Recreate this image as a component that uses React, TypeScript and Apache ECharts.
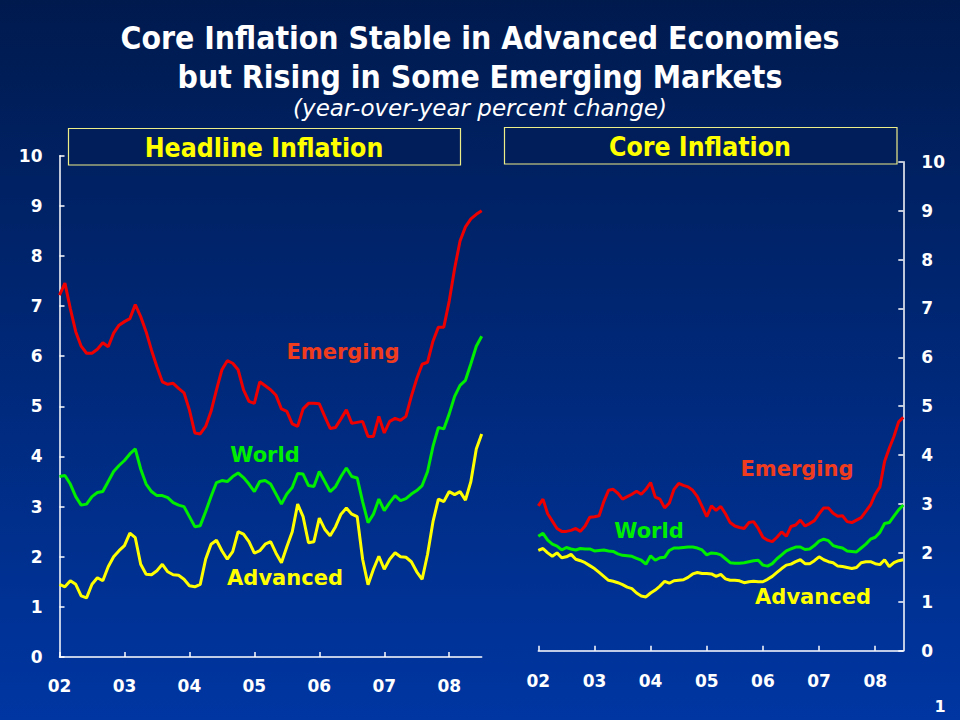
import React, { useEffect, useRef } from "react";
import * as echarts from "echarts";

const yearLabels = ["02", "03", "04", "05", "06", "07", "08"];

const headEmerging = [
  7.22, 7.46, 6.95, 6.49, 6.2, 6.06, 6.06, 6.14, 6.27, 6.19, 6.46, 6.62,
  6.69, 6.75, 7.03, 6.79, 6.49, 6.12, 5.79, 5.49, 5.44, 5.46, 5.36, 5.27,
  4.93, 4.47, 4.45, 4.6, 4.9, 5.33, 5.73, 5.91, 5.86, 5.73, 5.33, 5.1,
  5.06, 5.49, 5.41, 5.33, 5.22, 4.95, 4.9, 4.65, 4.6, 4.95, 5.06, 5.06,
  5.05, 4.8, 4.56, 4.58, 4.75, 4.93, 4.66, 4.68, 4.7, 4.4, 4.4, 4.8,
  4.47, 4.7, 4.76, 4.72, 4.8, 5.2, 5.55, 5.84, 5.88, 6.3, 6.58, 6.58,
  7.1, 7.75, 8.3, 8.58, 8.74, 8.83, 8.9,
];
const headWorld = [
  3.6, 3.62, 3.45, 3.2, 3.03, 3.05, 3.2, 3.28, 3.3, 3.5, 3.7, 3.82,
  3.92, 4.05, 4.15, 3.75, 3.45, 3.3, 3.22, 3.22, 3.18, 3.08, 3.03, 3.0,
  2.8, 2.6, 2.62, 2.9, 3.2, 3.48, 3.52, 3.5, 3.6, 3.67, 3.58, 3.45,
  3.3, 3.5, 3.52, 3.45, 3.25, 3.05, 3.25, 3.38, 3.66, 3.65, 3.42, 3.4,
  3.7, 3.5, 3.3, 3.4, 3.6, 3.77, 3.6, 3.57, 3.1, 2.68, 2.85, 3.15,
  2.92, 3.08, 3.22, 3.12, 3.16, 3.25, 3.32, 3.42, 3.7, 4.2, 4.58, 4.55,
  4.85, 5.2, 5.42, 5.52, 5.85, 6.2, 6.4,
];
const headAdvanced = [
  1.45, 1.4, 1.52, 1.45, 1.22, 1.18, 1.45, 1.58, 1.52, 1.8, 2.0, 2.12,
  2.22, 2.47, 2.38, 1.85, 1.65, 1.64, 1.72, 1.85, 1.7, 1.64, 1.63, 1.55,
  1.42, 1.4, 1.45, 1.95, 2.25, 2.33, 2.12, 1.95, 2.1, 2.5, 2.45, 2.3,
  2.07, 2.12, 2.25, 2.3, 2.07, 1.88, 2.2, 2.5, 3.05, 2.8, 2.28, 2.3,
  2.77, 2.55, 2.42, 2.6, 2.85, 2.97, 2.85, 2.8, 1.95, 1.44, 1.75, 2.01,
  1.75, 1.95, 2.08, 2.0, 1.99, 1.9, 1.7, 1.55, 2.05, 2.7, 3.15, 3.1,
  3.3, 3.24, 3.3, 3.13, 3.5, 4.15, 4.45,
];

const coreEmerging = [
  2.96, 3.1, 2.8, 2.65, 2.5, 2.44, 2.44, 2.46, 2.5, 2.44, 2.55, 2.73,
  2.74, 2.76, 3.05, 3.28, 3.3, 3.22, 3.1, 3.15, 3.2, 3.26, 3.2, 3.3,
  3.44, 3.14, 3.1, 2.92, 3.02, 3.3, 3.42, 3.38, 3.35, 3.28, 3.15, 2.95,
  2.74, 2.96, 2.87, 2.95, 2.8, 2.62, 2.55, 2.52, 2.5, 2.62, 2.64, 2.5,
  2.32, 2.26, 2.23, 2.32, 2.43, 2.34, 2.54, 2.57, 2.67, 2.55, 2.6, 2.66,
  2.8, 2.92, 2.92, 2.81, 2.75, 2.76, 2.64, 2.62, 2.67, 2.72, 2.85, 2.98,
  3.2, 3.35, 3.87, 4.14, 4.38, 4.68, 4.77,
];
const coreWorld = [
  2.34, 2.4, 2.26, 2.18, 2.14, 2.06, 2.11, 2.08, 2.06, 2.09, 2.08, 2.08,
  2.04, 2.05, 2.06, 2.04, 2.03, 1.98, 1.95, 1.94, 1.93, 1.89, 1.85, 1.77,
  1.94, 1.85, 1.9, 1.91, 2.05, 2.1, 2.1, 2.11, 2.12, 2.12, 2.1, 2.06,
  1.96, 2.0, 1.99, 1.96, 1.88, 1.8, 1.79, 1.79, 1.8, 1.82, 1.84, 1.85,
  1.75, 1.73, 1.78, 1.88, 1.96, 2.04, 2.08, 2.12, 2.12, 2.07, 2.08, 2.15,
  2.24, 2.28, 2.25, 2.15, 2.12, 2.1, 2.04, 2.03, 2.02, 2.1, 2.18, 2.28,
  2.32, 2.42, 2.6, 2.62, 2.75, 2.88, 2.98,
];
const coreAdvanced = [
  2.05, 2.09, 2.0, 1.93, 2.0, 1.9, 1.92, 1.97, 1.87, 1.84, 1.8, 1.74,
  1.68, 1.6, 1.52, 1.44, 1.42, 1.39, 1.35, 1.3, 1.27, 1.18, 1.12, 1.1,
  1.18, 1.24, 1.32, 1.42, 1.38, 1.43, 1.44, 1.45, 1.5, 1.57, 1.6, 1.58,
  1.58, 1.57, 1.52, 1.56, 1.47, 1.44, 1.44, 1.43, 1.39, 1.41, 1.42, 1.41,
  1.41, 1.46, 1.52, 1.6, 1.68, 1.75, 1.77, 1.82, 1.86, 1.78, 1.78, 1.84,
  1.92, 1.86, 1.82, 1.8, 1.73, 1.72, 1.7, 1.68, 1.7, 1.8, 1.82, 1.82,
  1.78, 1.76, 1.86, 1.72, 1.8, 1.84, 1.86,
];

const monthNames = ["Jan", "Feb", "Mar", "Apr", "May", "Jun", "Jul", "Aug", "Sep", "Oct", "Nov", "Dec"];
const months: string[] = [];
for (let i = 0; i < headEmerging.length; i++) {
  months.push(monthNames[i % 12] + "-" + yearLabels[Math.floor(i / 12)]);
}

const FONT = "'DejaVu Sans', sans-serif";
const RED = "#ee0000";
const GREEN = "#00ee00";
const YELLOW = "#ffff00";
const WHITE = "#ffffff";

function xAxisFor(gridIndex: number, margin: number) {
  return {
    type: "category",
    gridIndex,
    data: months,
    boundaryGap: false,
    axisLine: { show: true, lineStyle: { color: WHITE, width: 1.5 } },
    axisTick: { show: true, inside: true, length: 5, interval: 11, lineStyle: { color: WHITE, width: 1.5 } },
    axisLabel: {
      interval: 11,
      margin,
      color: WHITE,
      fontSize: 17,
      fontWeight: "bold",
      fontFamily: FONT,
      formatter: (_v: string, idx: number) => yearLabels[Math.floor(idx / 12)],
    },
    splitLine: { show: false },
  };
}

function yAxisFor(gridIndex: number, position: string, margin: number) {
  return {
    type: "value",
    gridIndex,
    position,
    min: 0,
    max: 10,
    interval: 1,
    axisLine: { show: true, lineStyle: { color: WHITE, width: 1.5 } },
    axisTick: { show: true, inside: true, length: 5, lineStyle: { color: WHITE, width: 1.5 } },
    axisLabel: { margin, color: WHITE, fontSize: 17, fontWeight: "bold", fontFamily: FONT },
    splitLine: { show: false },
  };
}

function lineSeries(name: string, data: number[], color: string, idx: number) {
  return {
    name,
    type: "line",
    xAxisIndex: idx,
    yAxisIndex: idx,
    data,
    showSymbol: false,
    symbol: "none",
    lineStyle: { color, width: 3 },
    itemStyle: { color },
  };
}

function label(text: string, x: number, y: number, color: string, size = 21) {
  return {
    type: "text",
    x,
    y,
    style: { text, fill: color, font: `bold ${size}px ${FONT}`, align: "center", verticalAlign: "middle" },
  };
}

export default function App() {
  const ref = useRef<HTMLDivElement>(null);
  useEffect(() => {
    if (!ref.current) return;
    const chart = echarts.init(ref.current, null, { renderer: "svg" });
    chart.setOption({
      animation: false,
      backgroundColor: {
        type: "linear",
        x: 0,
        y: 0,
        x2: 0,
        y2: 1,
        colorStops: [
          { offset: 0, color: "#001a4e" },
          { offset: 1, color: "#0036a2" },
        ],
      },
      grid: [
        { left: 59.5, right: 478.3, top: 155.7, bottom: 63 },
        { left: 538.3, right: 56.7, top: 161.7, bottom: 69.3 },
      ],
      xAxis: [xAxisFor(0, 20), xAxisFor(1, 22)],
      yAxis: [yAxisFor(0, "left", 17), yAxisFor(1, "right", 18)],
      series: [
        lineSeries("Headline Emerging", headEmerging, RED, 0),
        lineSeries("Headline World", headWorld, GREEN, 0),
        lineSeries("Headline Advanced", headAdvanced, YELLOW, 0),
        lineSeries("Core Emerging", coreEmerging, RED, 1),
        lineSeries("Core World", coreWorld, GREEN, 1),
        lineSeries("Core Advanced", coreAdvanced, YELLOW, 1),
      ],
      graphic: [
        {
          type: "text",
          x: 480,
          y: 38,
          scaleX: 0.89,
          style: {
            text: "Core Inflation Stable in Advanced Economies",
            fill: WHITE,
            font: `bold 32px ${FONT}`,
            align: "center",
            verticalAlign: "middle",
          },
        },
        {
          type: "text",
          x: 480,
          y: 77,
          scaleX: 0.89,
          style: {
            text: "but Rising in Some Emerging Markets",
            fill: WHITE,
            font: `bold 32px ${FONT}`,
            align: "center",
            verticalAlign: "middle",
          },
        },
        {
          type: "text",
          x: 480,
          y: 108,
          style: {
            text: "(year-over-year percent change)",
            fill: WHITE,
            font: `italic 23px ${FONT}`,
            align: "center",
            verticalAlign: "middle",
          },
        },
        {
          type: "rect",
          shape: { x: 68.5, y: 128.5, width: 392, height: 36.5 },
          style: { fill: "#011d5a", stroke: "#eeee88", lineWidth: 1.2 },
        },
        {
          type: "rect",
          shape: { x: 504.5, y: 127.5, width: 392.5, height: 36.5 },
          style: { fill: "#011d5a", stroke: "#eeee88", lineWidth: 1.2 },
        },
        {
          type: "text",
          x: 264,
          y: 147,
          scaleX: 0.88,
          style: { text: "Headline Inflation", fill: YELLOW, font: `bold 27px ${FONT}`, align: "center", verticalAlign: "middle" },
        },
        {
          type: "text",
          x: 700,
          y: 146,
          scaleX: 0.88,
          style: { text: "Core Inflation", fill: YELLOW, font: `bold 27px ${FONT}`, align: "center", verticalAlign: "middle" },
        },
        label("Emerging", 343, 352, "#f03c1e"),
        label("World", 265, 455, GREEN),
        label("Advanced", 285, 578, YELLOW),
        label("Emerging", 797, 469, "#f03c1e"),
        label("World", 649, 531, GREEN),
        label("Advanced", 813, 597, YELLOW),
        label("1", 940, 706, WHITE, 16),
      ],
    });
    return () => chart.dispose();
  }, []);
  return <div ref={ref} style={{ position: "fixed", left: 0, top: 0, width: 960, height: 720 }} />;
}
